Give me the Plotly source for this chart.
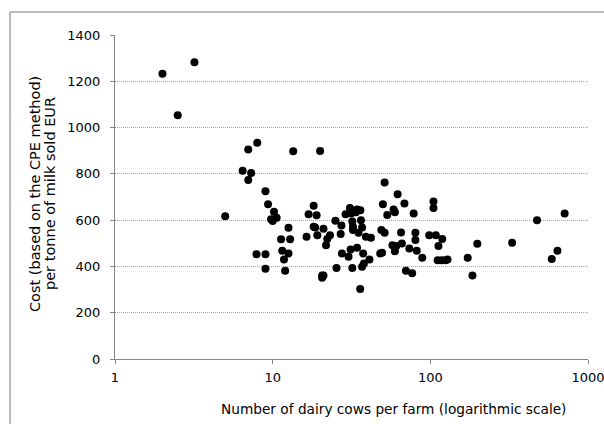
import plotly.graph_objects as go

# Herd size (dairy cows per farm) and cost per tonne of milk sold (EUR, CPE method)
cows = [
    2.0, 2.5, 3.19, 5.0, 6.45, 7.0, 7.0, 7.3, 7.98, 7.9,
    9.0, 9.0, 9.0, 9.35, 9.77, 10.0, 10.2, 10.6, 11.3, 11.5,
    11.8, 12.0, 12.6, 12.6, 12.9, 13.5, 16.4, 16.9, 18.2, 18.2,
    18.6, 19.0, 19.2, 20.0, 20.6, 21.0, 20.6, 21.0, 21.8, 22.2,
    23.1, 25.0, 25.4, 27.0, 27.3, 27.5, 29.0, 30.3, 30.9, 31.2,
    31.5, 32.0, 32.0, 32.3, 32.3, 33.7, 34.3, 34.3, 35.0, 36.0,
    36.3, 35.9, 36.9, 36.9, 37.5, 37.9, 39.0, 41.1, 42.0, 48.1,
    49.4, 48.9, 50.0, 51.3, 51.3, 53.3, 57.5, 58.5, 59.6, 59.6,
    60.8, 62.0, 65.2, 66.0, 68.5, 70.0, 73.6, 76.7, 78.4, 80.4,
    80.4, 82.0, 88.9, 98.4, 104.7, 104.7, 108.3, 112.6, 111.3, 118.0,
    119.0, 125.0, 128.5, 172.6, 185.0, 198.6, 330.0, 475.0, 589.0, 640.0,
    711.0,
]
cost = [
    1233, 1053, 1282, 617, 813, 905, 773, 804, 934, 453,
    725, 453, 390, 669, 604, 596, 636, 610, 517, 468,
    430, 381, 567, 456, 517, 898, 528, 626, 662, 571,
    568, 621, 535, 899, 361, 361, 351, 563, 492, 518,
    535, 597, 393, 540, 577, 456, 626, 442, 653, 473,
    629, 594, 393, 571, 557, 634, 481, 646, 545, 643,
    600, 302, 568, 399, 456, 413, 528, 430, 524, 456,
    459, 557, 669, 763, 545, 622, 491, 646, 634, 466,
    488, 712, 547, 499, 672, 381, 478, 370, 629, 545,
    514, 468, 437, 535, 681, 652, 535, 488, 427, 427,
    519, 427, 430, 437, 361, 498, 502, 600, 432, 468,
    629,
]

x_tick_vals = [1, 10, 100, 1000]
x_tick_text = ["1", "10", "100", "1000"]
y_tick_vals = [0, 200, 400, 600, 800, 1000, 1200, 1400]

x_title = "Number of dairy cows per farm (logarithmic scale)"
y_title_lines = ["Cost (based on the CPE method)", "per tonne of milk sold EUR"]

FONT = "DejaVu Sans, Verdana, sans-serif"
AXIS_GREY = "#868686"

W, H = 604, 424
L, R, T, B = 115, 16, 35, 65
PW, PH = W - L - R, H - T - B


def px_to_paper(px, py):
    """Convert page pixel coordinates to paper coordinates."""
    return (px - L) / PW, (H - B - py) / PH


fig = go.Figure(
    go.Scatter(
        x=cows,
        y=cost,
        mode="markers",
        marker=dict(color="#000000", size=8, line=dict(width=0)),
        hoverinfo="x+y",
    )
)

xt_x, xt_y = px_to_paper(393, 409)
yl1_x, yl_y = px_to_paper(35, 194)
yl2_x, _ = px_to_paper(50, 194)
fr_x, fr_y = px_to_paper(10, 12)

fig.update_layout(
    width=W,
    height=H,
    margin=dict(l=L, r=R, t=T, b=B, autoexpand=False),
    paper_bgcolor="white",
    plot_bgcolor="white",
    showlegend=False,
    font=dict(family=FONT, size=13, color="#000000"),
    xaxis=dict(
        type="log",
        range=[0, 3],
        tickvals=x_tick_vals,
        ticktext=x_tick_text,
        showgrid=False,
        zeroline=False,
        showline=True,
        linecolor=AXIS_GREY,
        linewidth=1,
        ticks="outside",
        ticklen=4,
        tickcolor=AXIS_GREY,
        ticklabelstandoff=2,
        ticklabeloverflow="allow",
        automargin=False,
        tickfont=dict(family=FONT, size=13),
    ),
    yaxis=dict(
        range=[0, 1400],
        tickvals=y_tick_vals,
        showgrid=True,
        gridcolor="#a8a8a8",
        griddash="1px,1px",
        gridwidth=1,
        zeroline=False,
        showline=True,
        linecolor=AXIS_GREY,
        linewidth=1,
        ticks="outside",
        ticklen=4,
        tickcolor=AXIS_GREY,
        ticklabelstandoff=7,
        ticklabeloverflow="allow",
        automargin=False,
        tickfont=dict(family=FONT, size=13),
    ),
    annotations=[
        dict(
            text=x_title,
            xref="paper", yref="paper",
            x=xt_x, y=xt_y,
            xanchor="center", yanchor="middle",
            showarrow=False,
            font=dict(family=FONT, size=13.7),
        ),
        dict(
            text=y_title_lines[0],
            xref="paper", yref="paper",
            x=yl1_x, y=yl_y,
            xanchor="center", yanchor="middle",
            textangle=-90,
            showarrow=False,
            font=dict(family=FONT, size=14.5),
        ),
        dict(
            text=y_title_lines[1],
            xref="paper", yref="paper",
            x=yl2_x, y=yl_y,
            xanchor="center", yanchor="middle",
            textangle=-90,
            showarrow=False,
            font=dict(family=FONT, size=14.5),
        ),
    ],
    shapes=[
        # chart-area frame: top and left edges
        dict(type="line", xref="paper", yref="paper",
             x0=fr_x, x1=1.2, y0=fr_y, y1=fr_y,
             line=dict(color="#a6a6a6", width=1.5)),
        dict(type="line", xref="paper", yref="paper",
             x0=fr_x, x1=fr_x, y0=fr_y, y1=-0.3,
             line=dict(color="#a6a6a6", width=1.5)),
    ],
)

fig.write_html("out.html")
